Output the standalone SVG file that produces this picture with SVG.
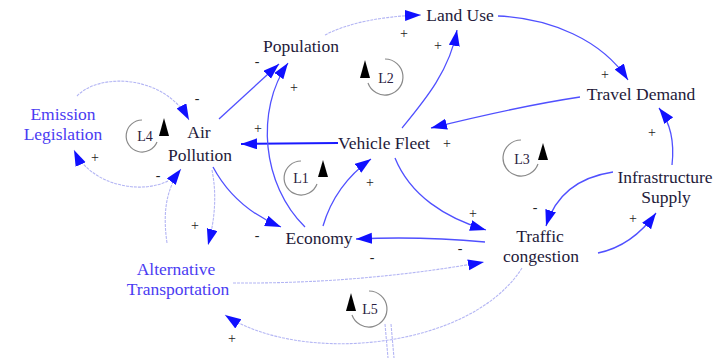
<svg xmlns="http://www.w3.org/2000/svg" width="717" height="358" viewBox="0 0 717 358">
<style>
.n{font-family:"Liberation Serif","Times New Roman",serif;font-size:17.5px;fill:#241a3a;text-anchor:middle}
.b{fill:#4a3cf2}
.s{font-family:"Liberation Serif","Times New Roman",serif;font-size:14px;fill:#222;text-anchor:middle}
.lt{font-family:"Liberation Serif","Times New Roman",serif;font-size:14px;fill:#2a2040;text-anchor:middle}
.c{fill:none;stroke:#5050ff;stroke-width:1.3}
.cl{fill:none;stroke:#b4b6f4;stroke-width:1.1;stroke-dasharray:3 1}
.th{fill:none;stroke:#1a1aff;stroke-width:2}
.lp{fill:none;stroke:#8a8a8a;stroke-width:1.2}
.ah{fill:#000}
</style>
<defs>
<marker id="a" markerUnits="userSpaceOnUse" markerWidth="17" markerHeight="12" refX="16" refY="5.5" orient="auto">
<path d="M0,0 L16,5.5 L0,11 Z" fill="#1010ff"/>
</marker>
</defs>
<g id="connectors">
<path class="cl" d="M325,35 Q360,17 421,15" marker-end="url(#a)"/>
<path class="c" d="M498,16 C550,18 602,40 628,80" marker-end="url(#a)"/>
<path class="c" d="M580,97 Q520,106 431,128" marker-end="url(#a)"/>
<path class="c" d="M402,128 C425,100 450,70 457,30" marker-end="url(#a)"/>
<path class="th" d="M338,143 L241,144" marker-end="url(#a)"/>
<path class="c" d="M395,158 C410,195 445,218 486,230" marker-end="url(#a)"/>
<path class="c" d="M323,226 Q335,185 371,159" marker-end="url(#a)"/>
<path class="c" d="M305,227 C262,185 255,110 288,63" marker-end="url(#a)"/>
<path class="c" d="M219,119 L279,64" marker-end="url(#a)"/>
<path class="c" d="M213,167 Q235,208 281,227" marker-end="url(#a)"/>
<path class="c" d="M485,242 Q420,236 356,239" marker-end="url(#a)"/>
<path class="c" d="M598,253 Q632,246 656,213" marker-end="url(#a)"/>
<path class="c" d="M613,172 Q560,180 546,226" marker-end="url(#a)"/>
<path class="c" d="M672,165 Q676,130 659,108" marker-end="url(#a)"/>
<path class="cl" d="M77,96 C100,72 165,75 189,120" marker-end="url(#a)"/>
<path class="cl" d="M168,181 C140,195 90,185 74,150" marker-end="url(#a)"/>
<path class="cl" d="M167,243 C163,215 165,190 181,169" marker-end="url(#a)"/>
<path class="cl" d="M212,170 Q219,205 208,245" marker-end="url(#a)"/>
<path class="cl" d="M233,283 Q360,284 484,262" marker-end="url(#a)"/>
<path class="cl" d="M522,268 C470,350 300,365 225,315" marker-end="url(#a)"/>
<path class="cl" d="M385,324 L388,358 M391,324 L394,358"/>
</g>
<g id="signs">
<text class="s" x="404" y="38">+</text>
<text class="s" x="605" y="79">+</text>
<text class="s" x="438" y="50">+</text>
<text class="s" x="258" y="133">+</text>
<text class="s" x="473" y="218">+</text>
<text class="s" x="370" y="187">+</text>
<text class="s" x="294" y="92">+</text>
<text class="s" x="257" y="66">-</text>
<text class="s" x="257" y="240">-</text>
<text class="s" x="372" y="262">-</text>
<text class="s" x="633" y="223">+</text>
<text class="s" x="535" y="212">-</text>
<text class="s" x="652" y="137">+</text>
<text class="s" x="197" y="103">-</text>
<text class="s" x="95" y="162">+</text>
<text class="s" x="158" y="180">-</text>
<text class="s" x="195" y="230">+</text>
<text class="s" x="460" y="253">-</text>
<text class="s" x="232" y="343">+</text>
</g>
<g id="land-use"><text class="n" x="460" y="21">Land Use</text></g>
<g id="population"><text class="n" x="301" y="52">Population</text></g>
<g id="travel-demand"><text class="n" x="641" y="100">Travel Demand</text></g>
<g id="emission-legislation"><text class="n b" x="63" y="120">Emission</text><text class="n b" x="63" y="140">Legislation</text></g>
<g id="air-pollution"><text class="n" x="199" y="138">Air</text><text class="n" x="200" y="161">Pollution</text></g>
<g id="vehicle-fleet"><text class="n" x="338" y="149" style="text-anchor:start">Vehicle Fleet</text><text class="s" x="447" y="148">+</text></g>
<g id="infrastructure-supply"><text class="n" x="665" y="183">Infrastructure</text><text class="n" x="666" y="203">Supply</text></g>
<g id="economy"><text class="n" x="319" y="244">Economy</text></g>
<g id="traffic-congestion"><text class="n" x="540" y="242">Traffic</text><text class="n" x="541" y="262">congestion</text></g>
<g id="alternative-transportation"><text class="n b" x="176" y="275">Alternative</text><text class="n b" x="178" y="295">Transportation</text></g>
<g id="loop-L1"><path class="lp" d="M301,161 A17,17 0 1 0 317,184"/><path class="ah" d="M323,160 L318,177 L328,177 Z"/><text class="lt" x="301" y="183">L1</text></g>
<g id="loop-L2"><path class="lp" d="M385,59 A18,18 0 1 1 368,83"/><path class="ah" d="M365,60 L360,78 L370,78 Z"/><text class="lt" x="386" y="83">L2</text></g>
<g id="loop-L3"><path class="lp" d="M521,140 A18,18 0 1 0 538,164"/><path class="ah" d="M543,143 L538,160 L548,160 Z"/><text class="lt" x="522" y="164">L3</text></g>
<g id="loop-L4"><path class="lp" d="M142,120 A16,16 0 1 0 157,142"/><path class="ah" d="M164,118 L159,136 L169,136 Z"/><text class="lt" x="145" y="141">L4</text></g>
<g id="loop-L5"><path class="lp" d="M369,291 A18,18 0 1 1 352,315"/><path class="ah" d="M351,293 L346,311 L356,311 Z"/><text class="lt" x="370" y="314">L5</text></g>
</svg>
